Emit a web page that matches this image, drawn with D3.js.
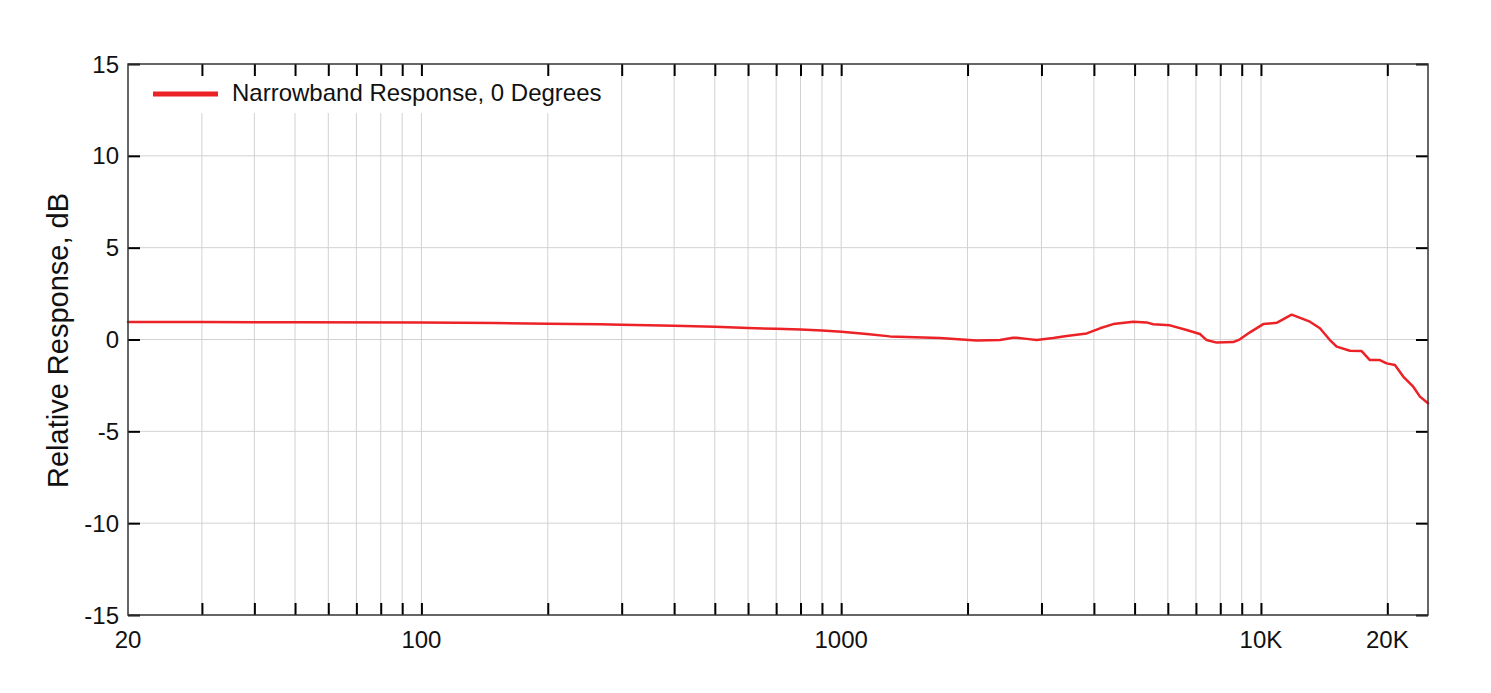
<!DOCTYPE html>
<html>
<head>
<meta charset="utf-8">
<script src="https://cdn.jsdelivr.net/npm/d3@7"></script>
<style>
  html, body { margin: 0; padding: 0; background: #fff; }
  svg { display: block; font-family: "Liberation Sans", Arial, sans-serif; }
</style>
</head>
<body>
<svg id="chart" width="1491" height="693"></svg>
<script>
// Data
const freqs = [20, 30, 50, 100, 150, 200, 266, 300, 400, 500, 600, 700, 800, 900, 1002, 1150, 1306, 1500, 1718, 1900, 2102, 2389, 2566, 2618, 2800, 2922, 3200, 3443, 3845, 4136, 4446, 4964, 5342, 5537, 6070, 6652, 7155, 7422, 7842, 8590, 8912, 9414, 10124, 10898, 11832, 13080, 13818, 14596, 15150, 16290, 17370, 18176, 19204, 19920, 20852, 21824, 23054, 23920, 25000];
const response = [0.95, 0.95, 0.94, 0.93, 0.9, 0.86, 0.83, 0.8, 0.75, 0.69, 0.63, 0.58, 0.54, 0.49, 0.42, 0.3, 0.17, 0.12, 0.08, 0.02, -0.06, -0.03, 0.1, 0.1, 0.02, -0.03, 0.08, 0.19, 0.33, 0.61, 0.84, 0.97, 0.93, 0.83, 0.77, 0.52, 0.3, -0.03, -0.17, -0.14, 0.01, 0.39, 0.84, 0.91, 1.35, 0.97, 0.61, -0.03, -0.39, -0.61, -0.63, -1.12, -1.12, -1.3, -1.39, -2.02, -2.57, -3.11, -3.47];
const xTicks = [30, 40, 50, 60, 70, 80, 90, 100, 200, 300, 400, 500, 600, 700, 800, 900, 1000, 2000, 3000, 4000, 5000, 6000, 7000, 8000, 9000, 10000, 20000];
const xLabels = [20, 100, 1000, 10000, 20000];
const xLabelText = ["20", "100", "1000", "10K", "20K"];
const yTicks = [-15, -10, -5, 0, 5, 10, 15];
const seriesName = "Narrowband Response, 0 Degrees";
const yTitle = "Relative Response, dB";

const L = 128, R = 1428, T = 64, B = 615;
const svg = d3.select("#chart");
const x = d3.scaleLog().domain([20, 25000]).range([L, R]);
const y = d3.scaleLinear().domain([-15, 15]).range([B, T]);

// gridlines
const grid = svg.append("g");
grid.selectAll("line.v").data(xTicks).enter().append("line")
  .attr("x1", d => x(d)).attr("x2", d => x(d)).attr("y1", T).attr("y2", B)
  .attr("stroke", "#d2d2d2").attr("stroke-width", 1);
grid.selectAll("line.h").data(yTicks.slice(1, -1)).enter().append("line")
  .attr("x1", L).attr("x2", R).attr("y1", d => y(d)).attr("y2", d => y(d))
  .attr("stroke", "#d2d2d2").attr("stroke-width", 1);

// legend background
svg.append("rect").attr("x", L + 1).attr("y", T + 1).attr("width", 484).attr("height", 48).attr("fill", "#fff");

// data line
const line = d3.line().x((d, i) => x(freqs[i])).y(d => y(d));
svg.append("path").datum(response).attr("d", line)
  .attr("fill", "none").attr("stroke", "#ec2227").attr("stroke-width", 2.5)
  .attr("stroke-linejoin", "round").attr("stroke-linecap", "round");

// axes (ticks inward)
const tl = 12;
const xb = d3.axisBottom(x).tickValues(xTicks).tickSize(-tl).tickFormat("");
const xt = d3.axisTop(x).tickValues(xTicks).tickSize(-tl).tickFormat("");
const yl = d3.axisLeft(y).tickValues(yTicks).tickSize(-tl).tickFormat("");
const yr = d3.axisRight(y).tickValues(yTicks).tickSize(-tl).tickFormat("");
function style(g) {
  g.select(".domain").attr("stroke", "#333").attr("stroke-width", 1.5);
  g.selectAll(".tick line").attr("stroke", "#000").attr("stroke-width", 2);
}
svg.append("g").attr("transform", `translate(0,${B})`).call(xb).call(style);
svg.append("g").attr("transform", `translate(0,${T})`).call(xt).call(style);
svg.append("g").attr("transform", `translate(${L},0)`).call(yl).call(style);
svg.append("g").attr("transform", `translate(${R},0)`).call(yr).call(style);
svg.selectAll(".domain").attr("d", null);
svg.append("rect").attr("x", L).attr("y", T).attr("width", R - L).attr("height", B - T)
  .attr("fill", "none").attr("stroke", "#333").attr("stroke-width", 1.5);

// tick labels
svg.append("g").selectAll("text").data(yTicks).enter().append("text")
  .attr("x", L - 9).attr("y", d => y(d) + 8.5)
  .attr("text-anchor", "end").attr("font-size", 24).attr("fill", "#111")
  .text(d => d);
svg.append("g").selectAll("text").data(xLabels).enter().append("text")
  .attr("x", d => x(d)).attr("y", 648)
  .attr("text-anchor", "middle").attr("font-size", 24).attr("fill", "#111")
  .text((d, i) => xLabelText[i]);

// y title
svg.append("text").attr("transform", `translate(68,${(T + B) / 2 + 1}) rotate(-90)`)
  .attr("text-anchor", "middle").attr("font-size", 29).attr("fill", "#111")
  .text(yTitle);

// legend
svg.append("line").attr("x1", 153).attr("x2", 218).attr("y1", 94).attr("y2", 94)
  .attr("stroke", "#ec2227").attr("stroke-width", 5);
svg.append("text").attr("x", 232).attr("y", 100.5)
  .attr("font-size", 24).attr("fill", "#111").text(seriesName);
</script>
</body>
</html>
